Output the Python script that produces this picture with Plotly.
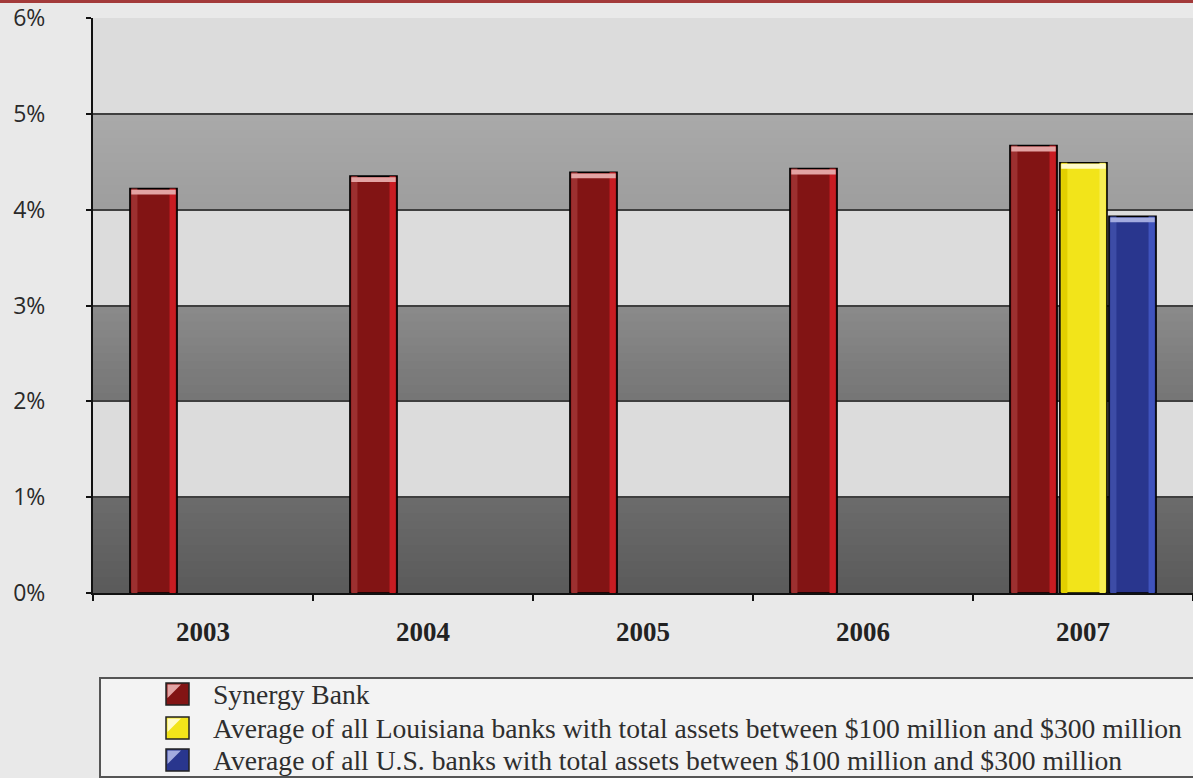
import plotly.graph_objects as go

# --- data -------------------------------------------------------------
years = ["2003", "2004", "2005", "2006", "2007"]
synergy = [4.22, 4.35, 4.39, 4.43, 4.67]
louisiana = [None, None, None, None, 4.49]
us_banks = [None, None, None, None, 3.93]

series_names = [
    "Synergy Bank",
    "Average of all Louisiana banks with total assets between $100 million and $300 million",
    "Average of all U.S. banks with total assets between $100 million and $300 million",
]
y_ticks = [0, 1, 2, 3, 4, 5, 6]
y_tick_text = ["0%", "1%", "2%", "3%", "4%", "5%", "6%"]

# --- styling ----------------------------------------------------------
W, H = 1193, 778
ML, MR, MT, MB = 93, 0, 18, 185
BAR_W = 0.214
OFFSETS = [-0.332, -0.105, 0.118]
# (main, left edge, right edge, top cap)
PALETTE = [
    ("#821414", "#9c3030", "#c81c22", "#e3a4a4"),
    ("#f2e41a", "#e2cf00", "#f7ee55", "#fffbc8"),
    ("#29368e", "#3d4ca6", "#3f53bd", "#a3abdf"),
]
series_values = [synergy, louisiana, us_banks]

fig = go.Figure()

EDGE = 0.028   # width of the side shading strips (category units)
CAP = 0.05     # height of the bevelled top (percent units)
INSET = 0.006

for vals, off, (main, left, right, cap), name in zip(series_values, OFFSETS, PALETTE, series_names):
    fig.add_trace(go.Bar(
        x=years, y=vals, name=name, offset=off, width=BAR_W,
        marker=dict(color=main, line=dict(color="black", width=1.6)),
        showlegend=False, hoverinfo="y",
    ))
    fig.add_trace(go.Bar(
        x=years, y=vals, offset=off + INSET, width=EDGE,
        marker=dict(color=left, line=dict(width=0)),
        showlegend=False, hoverinfo="skip",
    ))
    fig.add_trace(go.Bar(
        x=years, y=vals, offset=off + BAR_W - INSET - EDGE, width=EDGE,
        marker=dict(color=right, line=dict(width=0)),
        showlegend=False, hoverinfo="skip",
    ))
    cap_base = [None if v is None else v - CAP - 0.012 for v in vals]
    cap_h = [None if v is None else CAP for v in vals]
    fig.add_trace(go.Bar(
        x=years, y=cap_h, base=cap_base, offset=off + INSET, width=BAR_W - 2 * INSET,
        marker=dict(color=cap, line=dict(width=0)),
        showlegend=False, hoverinfo="skip",
    ))

# --- alternating background bands with a soft vertical gradient ------
def lerp(c1, c2, t):
    a = [int(c1[i:i + 2], 16) for i in (1, 3, 5)]
    b = [int(c2[i:i + 2], 16) for i in (1, 3, 5)]
    return "#%02x%02x%02x" % tuple(round(a[k] + (b[k] - a[k]) * t) for k in range(3))

dark_bands = {4: ("#a9a9a9", "#9e9e9e"), 2: ("#8a8a8a", "#767676"), 0: ("#6b6b6b", "#5b5b5b")}
shapes = []
for lo in y_ticks[:-1]:
    if lo in dark_bands:
        top_c, bot_c = dark_bands[lo]
        steps = 12
        # each step reaches down to the band floor so no seams show between them
        for s in range(steps):
            y1 = lo + 1 - s / steps
            shapes.append(dict(type="rect", xref="paper", yref="y", x0=0, x1=1,
                               y0=lo, y1=y1, fillcolor=lerp(top_c, bot_c, s / (steps - 1)),
                               line=dict(width=0), layer="below"))
    else:
        shapes.append(dict(type="rect", xref="paper", yref="y", x0=0, x1=1,
                           y0=lo, y1=lo + 1, fillcolor="#dcdcdc",
                           line=dict(width=0), layer="below"))

plot_h = H - MT - MB
plot_w = W - ML - MR


def px_x(p):
    return (p - ML) / plot_w


def px_y(p):
    return (H - MB - p) / plot_h


# thin red rule along the top edge of the page
shapes.append(dict(type="rect", xref="paper", yref="paper",
                   x0=px_x(-5), x1=px_x(W + 5), y0=px_y(3), y1=px_y(-5),
                   fillcolor="#a33a3a", line=dict(width=0), layer="below"))

# legend frame
shapes.append(dict(type="rect", xref="paper", yref="paper",
                   x0=px_x(100), x1=px_x(W + 10), y0=px_y(777), y1=px_y(678),
                   fillcolor="rgba(246,246,246,0.75)", line=dict(color="#555555", width=2),
                   layer="below"))

# legend entries: swatch + label
row_centers = [694, 728, 760]
annotations = []
for (main, left, right, cap), name, cy in zip(PALETTE, series_names, row_centers):
    shapes.append(dict(type="rect", xref="paper", yref="paper",
                       x0=px_x(166), x1=px_x(189), y0=px_y(cy + 11), y1=px_y(cy - 11),
                       fillcolor=main, line=dict(color="#222222", width=1.5)))
    shapes.append(dict(type="path", xref="paper", yref="paper",
                       path="M {} {} L {} {} L {} {} Z".format(
                           px_x(167.5), px_y(cy + 4), px_x(167.5), px_y(cy - 9.5),
                           px_x(181), px_y(cy - 9.5)),
                       fillcolor=cap, line=dict(width=0)))
    annotations.append(dict(xref="paper", yref="paper", x=px_x(211), y=px_y(cy),
                            xanchor="left", yanchor="middle", showarrow=False, text=name,
                            font=dict(family="Liberation Serif", size=27.6, color="#2e2e2e")))

fig.update_layout(
    width=W, height=H,
    margin=dict(l=ML, r=MR, t=MT, b=MB, pad=0),
    paper_bgcolor="#e9e9e9",
    plot_bgcolor="#dcdcdc",
    barmode="overlay",
    showlegend=False,
    shapes=shapes,
    annotations=annotations,
    xaxis=dict(
        type="category", range=[-0.5, 4.5],
        showgrid=False, zeroline=False,
        showline=True, linecolor="#111111", linewidth=2,
        ticks="outside", tickson="boundaries", ticklen=6, tickcolor="#111111", tickwidth=1.5,
        tickfont=dict(family="Liberation Serif", size=27, color="#222222", weight="bold"),
        ticklabelstandoff=14,
    ),
    yaxis=dict(
        range=[0, 6], tickvals=y_ticks, ticktext=y_tick_text,
        showgrid=True, gridcolor="#3f3f3f", gridwidth=2,
        zeroline=False,
        showline=True, linecolor="#111111", linewidth=2,
        ticks="outside", ticklen=5, tickcolor="#111111", tickwidth=1.5,
        tickfont=dict(family="Open Sans", size=23, color="#2a2a2a"),
        ticklabelstandoff=36,
    ),
)

fig.write_html("out.html")
